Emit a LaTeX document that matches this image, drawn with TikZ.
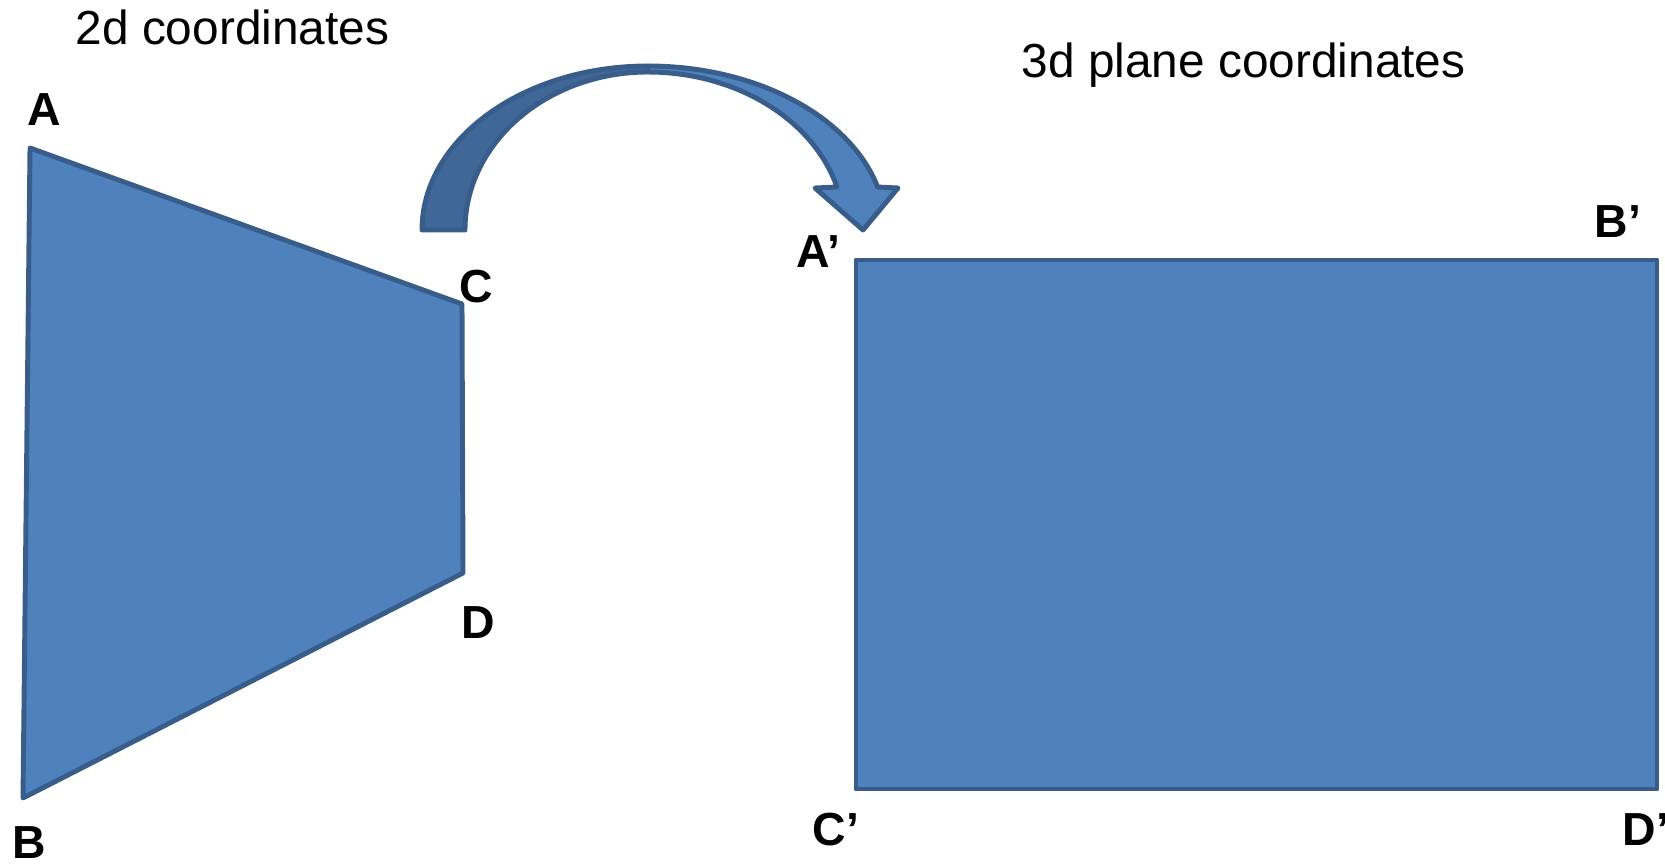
\documentclass[tikz,border=0pt]{standalone}
\usepackage{fontspec}
\setmainfont{Liberation Sans}
\usepackage{tikz}
\usepackage{xcolor}
\definecolor{planeblue}{HTML}{4F81BD}
\definecolor{planeedge}{HTML}{385D8A}
\definecolor{planeshade}{HTML}{3F6797}
\tikzset{
  plane/.style={fill=planeblue,draw=planeedge,line width=1.4pt,line join=round},
  corner/.style={anchor=base west,inner sep=0pt,font=\fontsize{13.2}{15}\selectfont\bfseries},
  caption/.style={anchor=base west,inner sep=0pt,font=\fontsize{13.6}{16}\selectfont}
}

\begin{document}
\begin{tikzpicture}
\useasboundingbox (0,0) rectangle (16.65,8.65);
% Source quadrilateral in image space.
\draw[plane] (0.30,7.17) -- (4.62,5.61) -- (4.63,2.92) -- (0.23,0.67) -- cycle;
% Target rectangle on the plane.
\draw[plane] (8.56,6.05) rectangle (16.57,0.76);
% Curved arrow: shaded back half, then the front half with its head.
\draw[plane,fill=planeshade] (4.22,6.35) arc[start angle=180,end angle=90,x radius=2.26,y radius=1.64]
  -- (6.48,7.93) arc[start angle=90,end angle=180,x radius=1.83,y radius=1.58] -- cycle;
\draw[plane] (6.48,7.99) arc[start angle=90,end angle=15.2,x radius=2.38,y radius=1.64]
  -- (8.98,6.77) -- (8.63,6.35) -- (8.15,6.77) -- (8.37,6.78)
  arc[start angle=15.8,end angle=90,x radius=1.965,y radius=1.58] -- cycle;
\node[caption] (srctitle) at (0.75,8.21) {2d coordinates};
\node[caption] (dsttitle) at (10.21,7.88) {3d plane coordinates};
\node[corner] (lblA) at (0.27,7.40) {A};
\node[corner] (lblC) at (4.59,5.63) {C};
\node[corner] (lblD) at (4.61,2.27) {D};
\node[corner] (lblB) at (0.12,0.07) {B};
\node[corner] (lblAp) at (7.96,5.98) {A’};
\node[corner] (lblBp) at (15.94,6.28) {B’};
\node[corner] (lblCp) at (8.12,0.20) {C’};
\node[corner] (lblDp) at (16.22,0.20) {D’};
\end{tikzpicture}
\end{document}
